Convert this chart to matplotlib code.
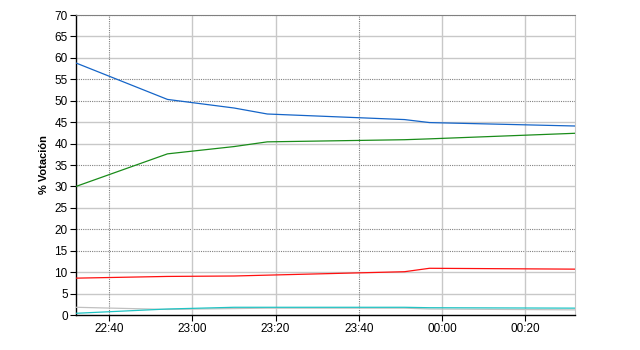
import matplotlib
matplotlib.use("Agg")
import matplotlib.pyplot as plt
import matplotlib.dates as mdates
import pandas as pd

# horas de los datos (cruza medianoche)
horas = ["2019-11-10 22:32", "2019-11-10 22:54", "2019-11-10 23:10", "2019-11-10 23:18",
         "2019-11-10 23:51", "2019-11-10 23:57", "2019-11-11 00:32"]
azul = [58.8, 50.3, 48.3, 46.9, 45.6, 44.9, 44.1]
verde = [30.0, 37.6, 39.3, 40.4, 40.9, 41.1, 42.4]
rojo = [8.6, 9.0, 9.1, 9.3, 10.1, 10.9, 10.7]
cian = [0.4, 1.4, 1.8, 1.8, 1.8, 1.7, 1.6]
gris = [1.8, 1.3, 1.5, 1.6, 1.6, 1.4, 1.2]

ticks_x = ["2019-11-10 22:40", "2019-11-10 23:00", "2019-11-10 23:20",
           "2019-11-10 23:40", "2019-11-11 00:00", "2019-11-11 00:20"]
ticks_y = list(range(0, 75, 5))
y_punteado = [70, 55, 50, 35, 20, 15]
x_punteado = ["2019-11-10 22:40", "2019-11-10 23:40"]

plt.rcParams['font.family'] = ['Liberation Sans', 'DejaVu Sans']

t = pd.to_datetime(horas)
tx = pd.to_datetime(ticks_x)

fig = plt.figure(figsize=(6.4, 3.5), dpi=100)
ax = fig.add_axes([76/640, 35/350, 499/640, 300/350])

# rejilla: lineas grises claras y punteadas oscuras
for v in ticks_y[1:]:
    if v in y_punteado:
        ax.axhline(v, color="#808080", lw=0.8, ls=(0, (1, 1)), zorder=1)
    else:
        ax.axhline(v, color="#c8c8c8", lw=1.0, zorder=1)
for s, v in zip(ticks_x, tx):
    if s in x_punteado:
        ax.axvline(v, color="#808080", lw=0.8, ls=(0, (1, 1)), zorder=1)
    else:
        ax.axvline(v, color="#c8c8c8", lw=1.0, zorder=1)

ax.plot(t, gris, color="#c0c0c0", lw=0.9, zorder=3)
ax.plot(t, cian, color="#20c4c4", lw=0.9, zorder=3)
ax.plot(t, rojo, color="#ff1010", lw=0.9, zorder=3)
ax.plot(t, verde, color="#1a8c1a", lw=0.9, zorder=3)
ax.plot(t, azul, color="#1565c8", lw=0.9, zorder=3)

ax.set_xlim(t[0], t[-1])
ax.set_ylim(0, 70)
ax.set_yticks(ticks_y)
ax.set_xticks(tx)
ax.xaxis.set_major_formatter(mdates.DateFormatter("%H:%M"))

ax.spines["right"].set_color("#c8c8c8")
ax.spines["top"].set_color("#808080")
ax.spines["top"].set_linewidth(0.8)
ax.spines["top"].set_linestyle((0, (1, 1)))
for s in ["left", "bottom"]:
    ax.spines[s].set_color("black")
    ax.spines[s].set_linewidth(1.0)

ax.tick_params(axis="both", direction="out", length=4, width=0.8, labelsize=8.5, pad=2)
ax.set_ylabel("% Votación", fontsize=8, fontweight="bold", labelpad=4)

fig.savefig("out.png", dpi=100)
